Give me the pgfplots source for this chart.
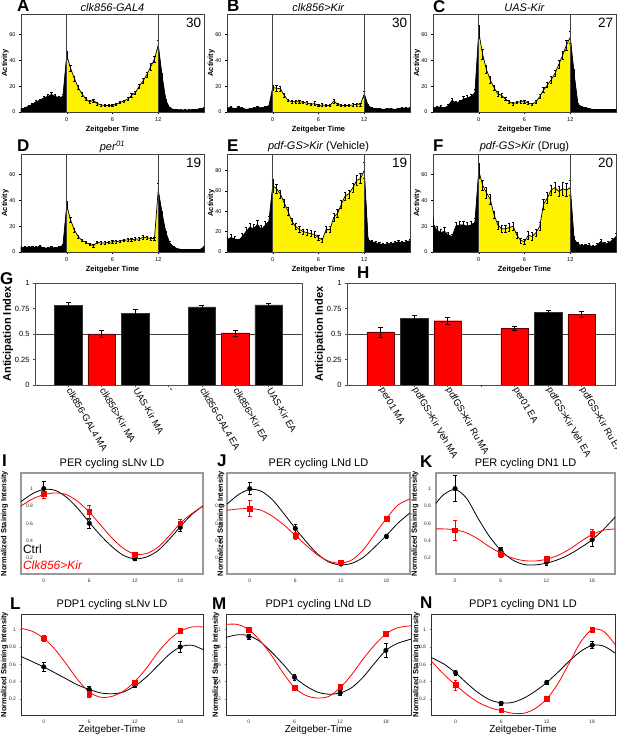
\documentclass[border=0pt]{standalone}
\usepackage{fontspec}
\setmainfont{Liberation Sans}
\usepackage{pgfplots}
\pgfplotsset{compat=1.18}
\usepackage{pgfplotstable}

\pgfplotstableread{
x y e
-6.0 2.5 0.8
-5.5 3.0 0.8
-5.0 4.5 1.0
-4.5 6.0 1.0
-4.0 8.0 1.2
-3.5 9.0 1.2
-3.0 11.0 1.5
-2.5 12.0 1.5
-2.0 13.5 1.5
-1.5 12.0 1.5
-1.0 11.0 1.5
-0.5 12.0 1.5
0.0 44 3.0
0.5 34 2.5
1.0 26 2.0
1.5 19 1.5
2.0 14 1.5
2.5 10 1.2
3.0 8 1.0
3.5 9 1.2
4.0 6.5 1.0
4.5 5.5 0.8
5.0 5 0.8
5.5 5 0.8
6.0 5 0.8
6.5 6 0.8
7.0 7.5 1.0
7.5 8.5 1.0
8.0 10 1.2
8.5 13 1.5
9.0 15 1.5
9.5 20 1.8
10.0 24 2.0
10.5 29 2.2
11.0 35 2.5
11.5 41 2.5
12.0 52 3.5
12.5 28 2.0
13.0 9 1.0
13.5 3 0.5
14.0 2 0.4
14.5 1.8 0.4
15.0 1.5 0.4
15.5 1.5 0.4
16.0 1.5 0.4
16.5 1.8 0.4
17.0 2.0 0.4
17.5 2.5 0.5
18.0 3.0 0.5
}\tA

\pgfplotstableread{
x y e
-6.0 3 0.8
-5.5 3.5 0.8
-5.0 2.5 0.6
-4.5 3.5 0.8
-4.0 3 0.8
-3.5 2 0.5
-3.0 2.5 0.6
-2.5 3 0.6
-2.0 3.5 0.8
-1.5 3 0.6
-1.0 4 0.8
-0.5 4.5 0.8
0.0 19 2
0.5 18.5 2
1.0 18 2
1.5 13 1.5
2.0 9 1
2.5 8 1
3.0 8 1
3.5 8 1
4.0 7.5 1
4.5 7 1
5.0 6 1
5.5 6.5 1.5
6.0 5 0.8
6.5 5.5 1
7.0 5 0.8
7.5 5 0.8
8.0 8.5 1.5
8.5 6 1
9.0 5 0.8
9.5 5 0.8
10.0 5 0.8
10.5 5.5 1
11.0 6 1.2
11.5 6 1.2
12.0 14 2.5
12.5 5 0.8
13.0 3 0.6
13.5 2.5 0.5
14.0 2.5 0.5
14.5 2 0.5
15.0 2.5 0.5
15.5 2.5 0.5
16.0 2 0.5
16.5 2.5 0.5
17.0 3 0.6
17.5 3 0.6
18.0 3 0.6
}\tB

\pgfplotstableread{
x y e
-6.0 3 0.8
-5.5 3.5 0.8
-5.0 4 1
-4.5 3 0.8
-4.0 5 1
-3.5 9 2
-3.0 7 1.5
-2.5 8 1.5
-2.0 10 2
-1.5 11 2
-1.0 12 2
-0.5 15 3
0.0 62 5
0.5 45 4
1.0 33 3
1.5 25 2.5
2.0 19 2
2.5 14 2
3.0 13 1.5
3.5 10 1.2
4.0 8 1
4.5 6.5 1
5.0 7.5 1
5.5 8 1
6.0 8 1
6.5 7 1
7.0 6 1
7.5 8 1
8.0 12 1.5
8.5 17 2
9.0 21 2
9.5 25 2.5
10.0 30 2.5
10.5 37 3
11.0 44 3
11.5 52 4
12.0 58 5
12.5 30 3
13.0 6 1
13.5 4 0.8
14.0 3 0.6
14.5 2.5 0.5
15.0 2 0.5
15.5 2 0.5
16.0 2 0.5
16.5 2 0.5
17.0 2 0.5
17.5 2 0.5
18.0 2 0.5
}\tC

\pgfplotstableread{
x y e
-6.0 3.5 0.8
-5.5 3.5 0.8
-5.0 4 0.8
-4.5 3.5 0.8
-4.0 3.5 0.8
-3.5 4.5 1
-3.0 3 0.8
-2.5 3 0.8
-2.0 3.5 0.8
-1.5 3 0.8
-1.0 4 0.8
-0.5 5 1
0.0 36 3
0.5 25 2
1.0 17 1.5
1.5 12 1.2
2.0 9 1
2.5 7.5 1
3.0 6 1
3.5 5 1
4.0 7.5 1
4.5 7 1
5.0 7 1
5.5 7.5 1
6.0 8 1
6.5 8 1
7.0 8.5 1
7.5 9 1
8.0 9.5 1.2
8.5 9.5 1.2
9.0 10 1.2
9.5 10 1.2
10.0 11.5 1.2
10.5 11 1.2
11.0 10.5 1.2
11.5 10.5 1.2
12.0 48 5
12.5 30 2
13.0 15 1.5
13.5 7 1
14.0 4 0.8
14.5 2.5 0.5
15.0 2 0.5
15.5 2 0.5
16.0 2 0.5
16.5 2 0.5
17.0 2 0.5
17.5 2 0.5
18.0 4 0.8
}\tD

\pgfplotstableread{
x y e
-6.0 12 3
-5.5 14 3
-5.0 13 2
-4.5 11 2
-4.0 15 3
-3.5 20 4
-3.0 24 4
-2.5 23 4
-2.0 27 4
-1.5 22 4
-1.0 26 4
-0.5 30 5
0.0 65 6
0.5 62 4
1.0 57 4
1.5 48 4
2.0 40 4
2.5 30 3
3.0 25 3
3.5 22 3
4.0 20 2.5
4.5 19 3
5.0 18 3
5.5 17 3
6.0 14 2.5
6.5 12 2
7.0 22 3
7.5 22 3
8.0 34 4
8.5 38 4
9.0 47 4
9.5 55 4
10.0 57 4
10.5 63 4
11.0 70 5
11.5 72 5
12.0 80 8
12.5 12 2
13.0 10 1.5
13.5 9 1.5
14.0 8 1.5
14.5 7 1.5
15.0 8 1.5
15.5 8 1.5
16.0 9 2
16.5 10 2
17.0 9 2
17.5 10 2
18.0 11 2
}\tE

\pgfplotstableread{
x y e
-6.0 22 4
-5.5 17 3
-5.0 15 3
-4.5 16 3
-4.0 13 2
-3.5 12 2
-3.0 20 3
-2.5 21 3
-2.0 21 3
-1.5 20 3
-1.0 21 3
-0.5 23 3
0.0 63 6
0.5 52 4
1.0 46 4
1.5 41 4
2.0 29 3
2.5 21 3
3.0 18 3
3.5 18 3
4.0 19 3
4.5 20 3
5.0 13 2
5.5 9 2
6.0 8 2
6.5 13 3
7.0 12 3
7.5 15 3
8.0 20 3
8.5 37 4
9.0 42 4
9.5 48 4
10.0 50 4
10.5 47 4
11.0 49 5
11.5 48 5
12.0 50 6
12.5 10 2
13.0 6 1.5
13.5 5 1
14.0 5 1
14.5 5 1.5
15.0 4 1
15.5 5 1.5
16.0 8 2
16.5 6 1.5
17.0 7 1.5
17.5 9 2
18.0 12 2.5
}\tF

\pgfplotsset{
  act/.style={scale only axis, width=183pt, height=98pt, anchor=south west,
    xmin=-6, xmax=18, ymin=0, xtick={0,6,12},
    tick align=outside, major tick length=2pt, xtick pos=bottom, ytick pos=left,
    tick style={black, line width=0.4pt},
    axis line style={black!75, line width=0.5pt},
    ticklabel style={font=\fontsize{5.5}{6}\selectfont},
    /pgf/number format/assume math mode=true,
    xlabel={Zeitgeber Time}, ylabel={Activity},
    xlabel style={font=\bfseries\fontsize{7.5}{8}\selectfont, at={(axis description cs:0.5,0)}, anchor=center, yshift=-18pt},
    ylabel style={font=\bfseries\fontsize{7.5}{8}\selectfont, at={(axis description cs:-0.087,0.5)}, anchor=center},
    title style={font=\fontsize{11}{12}\selectfont, at={(axis description cs:0.5,1)}, anchor=center, inner sep=0pt},
  },
  cyc/.style={scale only axis, height=101pt, anchor=south west,
    ymin=0.015, ymax=1.18, xtick={0,6,12,18}, ytick={0.2,0.4,0.6,0.8,1},
    axis line style={black!40, line width=1.2pt},
    tick style={black!50, line width=0.4pt}, major tick length=1.5pt, tick align=outside,
    xtick pos=bottom, ytick pos=left,
    ticklabel style={font=\fontsize{5}{6}\selectfont, text=black!80},
    /pgf/number format/assume math mode=true,
    title style={font=\fontsize{11}{12}\selectfont, at={(axis description cs:0.5,1)}, anchor=center, yshift=3pt, inner sep=0pt},
    ylabel={Normalized Staining Intensity},
    ylabel style={font=\bfseries\fontsize{7.5}{8}\selectfont, anchor=center},
  },
  cycb/.style={cyc, axis line style={black!80, line width=0.9pt}, xlabel={Zeitgeber-Time},
    xlabel style={font=\fontsize{10}{11}\selectfont, at={(axis description cs:0.5,0)}, anchor=center, yshift=-15pt}},
  bk/.style={black, line width=0.8pt, smooth},
  rd/.style={red, line width=0.8pt, smooth},
  bkp/.style={only marks, mark=*, mark size=2.3pt, black, error bars/.cd, y dir=both, y explicit,
    error bar style={black, line width=0.6pt}, error mark options={rotate=90, black, mark size=1.8pt, line width=0.6pt}, /pgfplots/.cd},
  rdp/.style={only marks, mark=square*, mark size=2.4pt, red, error bars/.cd, y dir=both, y explicit,
    error bar style={red, line width=0.6pt}, error mark options={rotate=90, red, mark size=1.8pt, line width=0.6pt}, /pgfplots/.cd},
  barax/.style={scale only axis, width=267pt, height=102pt, anchor=south west,
    xmin=0, xmax=8, ymin=0, ymax=1, ytick={0,0.25,0.5,0.75,1}, xtick={1,2,3,4,5,6,7},
    tick align=outside, major tick length=2pt, xtick pos=bottom, ytick pos=left,
    tick style={black!70, line width=0.5pt},
    axis line style={black!70, line width=0.6pt},
    yticklabel style={font=\fontsize{7.5}{8}\selectfont},
    xticklabel style={font=\fontsize{9.5}{10}\selectfont, rotate=-60, anchor=west, inner sep=1.5pt},
    /pgf/number format/assume math mode=true,
    ylabel={Anticipation Index},
    ylabel style={font=\bfseries\fontsize{11}{12}\selectfont, at={(axis description cs:-0.101,0.5)}, anchor=center},
  },
  barerr/.style={ybar, bar width=27.5pt, error bars/.cd, y dir=both, y explicit,
    error bar style={black, line width=0.6pt}, error mark options={rotate=90, black, mark size=2.5pt, line width=0.6pt}, /pgfplots/.cd},
}

\newcommand{\actpanel}[8]{%
\begin{axis}[act, at={(#2pt,#3pt)}, ymax=#4, ytick={#5}, title={#6}, title style={yshift=#8pt}]
\addplot[fill=black, draw=black, line width=0.3pt, restrict x to domain=-6:0] table[x=x,y=y] {#1} \closedcycle;
\addplot[fill=yellow, draw=none, restrict x to domain=0:12] table[x=x,y=y] {#1} \closedcycle;
\addplot[fill=black, draw=black, line width=0.3pt, restrict x to domain=12:18] table[x=x,y=y] {#1} \closedcycle;
\addplot[black, line width=0.7pt, error bars/.cd, y dir=both, y explicit,
  error bar style={black, line width=0.4pt}, error mark options={rotate=90, black, mark size=1.1pt, line width=0.4pt}]
  table[x=x,y=y,y error=e] {#1};
\addplot[black!75, line width=0.6pt] coordinates {(0,0) (0,#4)};
\addplot[black!75, line width=0.6pt] coordinates {(12,0) (12,#4)};
\node[anchor=north east, inner sep=0pt, font=\fontsize{13.5}{14}\selectfont] at (rel axis cs:0.985,0.965) {#7};
\end{axis}}

\newcommand{\letter}[3]{\node[anchor=north west, inner sep=0pt, font=\bfseries\fontsize{17}{17}\selectfont] at (#1pt,#2pt) {#3};}

\begin{document}
\begin{tikzpicture}
\path[use as bounding box] (0,0) rectangle (617pt,735pt);

% Row 1
\actpanel{\tA}{21}{623}{76}{0,20,40,60}{\textit{clk856-GAL4}}{30}{0}
\actpanel{\tB}{227}{623}{76}{0,20,40,60}{\textit{clk856>Kir}}{30}{0}
\actpanel{\tC}{433}{623}{76}{0,20,40,60}{\textit{UAS-Kir}}{27}{0}
% Row 2
\actpanel{\tD}{21}{483}{76}{0,20,40,60}{\textit{per}\textsuperscript{\textit{01}}}{19}{1}
\actpanel{\tE}{227}{483}{96}{0,20,40,60,80}{\textit{pdf-GS>Kir} (Vehicle)}{19}{1}
\actpanel{\tF}{433}{483}{76}{0,20,40,60}{\textit{pdf-GS>Kir} (Drug)}{20}{1}

% G
\begin{axis}[barax, at={(35pt,350pt)},
  xticklabels={clk856-GAL4 MA, clk856>Kir MA, UAS-Kir MA, -, clk856-GAL4 EA, clk856>Kir EA, UAS-Kir EA}]
\addplot[black!75, line width=0.8pt] coordinates {(0,0.5) (8,0.5)};
\addplot[barerr, fill=black, draw=black!80] coordinates {(1,0.78) +- (0,0.03) (3,0.70) +- (0,0.045) (5,0.765) +- (0,0.015) (7,0.785) +- (0,0.02)};
\addplot[barerr, fill=red, draw=red!40!black] coordinates {(2,0.50) +- (0,0.035) (6,0.51) +- (0,0.03)};
\end{axis}

% H
\begin{axis}[barax, width=268pt, at={(347pt,350pt)},
  ylabel style={at={(axis description cs:-0.1007,0.5)}},
  xticklabels={per01 MA, pdfGS>Kir Veh MA, pdfGS>Kir Ru MA, {}, per01 EA, pdfGS>Kir Veh EA, pdfGS>Kir Ru EA}]
\addplot[black!75, line width=0.8pt] coordinates {(0,0.5) (8,0.5)};
\addplot[barerr, fill=red, draw=red!40!black] coordinates {(1,0.52) +- (0,0.05) (3,0.63) +- (0,0.035) (5,0.555) +- (0,0.02) (7,0.69) +- (0,0.03)};
\addplot[barerr, fill=black, draw=black!80] coordinates {(2,0.65) +- (0,0.035) (6,0.715) +- (0,0.02)};
\end{axis}

% I
\begin{axis}[cyc, width=182pt, at={(21pt,161pt)}, xmin=-3, xmax=21,
  title={PER cycling sLNv LD},
  yticklabel style={xshift=17pt},
  ylabel style={at={(axis description cs:-0.0907,0.5)}}]
\addplot[bk] coordinates {(-3,0.85) (-1.5,0.94) (0,0.99) (1.5,0.98) (3,0.90) (4.5,0.77) (6,0.61) (7.5,0.46) (9,0.33) (10.5,0.23) (12,0.19) (13.5,0.21) (15,0.28) (16.5,0.41) (18,0.56) (19.5,0.70) (21,0.80)};
\addplot[rd] coordinates {(-3,0.80) (-1.5,0.88) (0,0.93) (1.5,0.95) (3,0.93) (4.5,0.85) (6,0.73) (7.5,0.58) (9,0.43) (10.5,0.31) (12,0.245) (13.5,0.25) (15,0.32) (16.5,0.45) (18,0.60) (19.5,0.71) (21,0.80)};
\addplot[bkp] coordinates {(0,1.0) +- (0,0.08) (6,0.60) +- (0,0.06) (12,0.19) +- (0,0.02) (18,0.55) +- (0,0.04)};
\addplot[rdp] coordinates {(0,0.94) +- (0,0.05) (6,0.73) +- (0,0.08) (12,0.24) +- (0,0.03) (18,0.60) +- (0,0.05)};
\node[anchor=west, inner sep=0pt, font=\fontsize{12}{13}\selectfont] at (rel axis cs:0.01,0.2475) {Ctrl};
\node[anchor=west, inner sep=0pt, font=\itshape\fontsize{12}{13}\selectfont, text=red] at (rel axis cs:0.01,0.089) {Clk856>Kir};
\end{axis}

% J
\begin{axis}[cyc, width=183pt, at={(227pt,161pt)}, xmin=-3, xmax=21.1,
  title={PER cycling LNd LD},
  ylabel style={at={(axis description cs:-0.033,0.5)}}]
\addplot[bk] coordinates {(-3,0.82) (-1.5,0.93) (0,0.99) (1.5,0.97) (3,0.87) (4.5,0.71) (6,0.54) (7.5,0.38) (9,0.24) (10.5,0.15) (12,0.12) (13.5,0.14) (15,0.21) (16.5,0.33) (18,0.46) (19.5,0.60) (21.1,0.72)};
\addplot[rd] coordinates {(-3,0.75) (-1.5,0.765) (0,0.77) (1.5,0.75) (3,0.68) (4.5,0.58) (6,0.46) (7.5,0.34) (9,0.23) (10.5,0.16) (12,0.14) (13.5,0.18) (15,0.30) (16.5,0.48) (18,0.655) (19.5,0.81) (21.1,0.88)};
\addplot[bkp] coordinates {(0,1.0) +- (0,0.07) (6,0.54) +- (0,0.05) (12,0.13) +- (0,0.02) (18,0.45) +- (0,0.02)};
\addplot[rdp] coordinates {(0,0.77) +- (0,0.09) (6,0.46) +- (0,0.04) (12,0.15) +- (0,0.02) (18,0.655) +- (0,0.02)};
\end{axis}

% K
\begin{axis}[cyc, width=179pt, at={(436pt,161pt)}, xmin=-2.5, xmax=21,
  title={PER cycling DN1 LD},
  ylabel style={at={(axis description cs:-0.117,0.5)}}]
\addplot[bk] coordinates {(-2.5,0.83) (-1.5,0.93) (0,0.99) (1.5,0.89) (3,0.66) (4.5,0.45) (6,0.29) (7.5,0.18) (9,0.125) (10.5,0.12) (12,0.14) (13.5,0.18) (15,0.24) (16.5,0.32) (18,0.41) (19.5,0.53) (21,0.67)};
\addplot[rd] coordinates {(-2.5,0.535) (-1.5,0.535) (0,0.525) (1.5,0.49) (3,0.42) (4.5,0.33) (6,0.255) (7.5,0.2) (9,0.17) (10.5,0.165) (12,0.185) (13.5,0.23) (15,0.3) (16.5,0.39) (18,0.47) (19.5,0.52) (21,0.535)};
\addplot[bkp] coordinates {(0,1.0) +- (0,0.15) (6,0.29) +- (0,0.03) (12,0.15) +- (0,0.03) (18,0.41) +- (0,0.07)};
\addplot[rdp] coordinates {(0,0.52) +- (0,0.12) (6,0.25) +- (0,0.04) (12,0.19) +- (0,0.02) (18,0.48) +- (0,0.05)};
\end{axis}

% L
\begin{axis}[cycb, width=182pt, at={(21pt,20pt)}, xmin=-3, xmax=21,
  title={PDP1 cycling sLNv LD},
  ylabel style={at={(axis description cs:-0.0907,0.5)}}]
\addplot[bk] coordinates {(-3,0.69) (-1.5,0.63) (0,0.57) (1.5,0.5) (3,0.43) (4.5,0.36) (6,0.31) (7.5,0.27) (9,0.26) (10.5,0.28) (12,0.35) (13.5,0.45) (15,0.58) (16.5,0.71) (18,0.8) (19.5,0.82) (21,0.77)};
\addplot[rd] coordinates {(-3,1.015) (-1.5,0.98) (0,0.9) (1.5,0.77) (3,0.6) (4.5,0.42) (6,0.28) (7.5,0.22) (9,0.23) (10.5,0.29) (12,0.4) (13.5,0.55) (15,0.73) (16.5,0.88) (18,0.98) (19.5,1.03) (21,1.03)};
\addplot[bkp] coordinates {(0,0.57) +- (0,0.05) (6,0.31) +- (0,0.04) (12,0.36) +- (0,0.03) (18,0.8) +- (0,0.06)};
\addplot[rdp] coordinates {(0,0.9) +- (0,0.03) (6,0.26) +- (0,0.04) (12,0.39) +- (0,0.03) (18,0.99) +- (0,0.03)};
\end{axis}

% M
\begin{axis}[cycb, width=185pt, at={(226pt,20pt)}, xmin=-3, xmax=21.3,
  title={PDP1 cycling LNd LD},
  ylabel style={at={(axis description cs:-0.054,0.5)}}]
\addplot[bk] coordinates {(-3,0.91) (-1.5,0.94) (0,0.93) (1.5,0.86) (3,0.74) (4.5,0.6) (6,0.45) (7.5,0.35) (9,0.28) (10.5,0.255) (12,0.27) (13.5,0.33) (15,0.45) (16.5,0.61) (18,0.76) (19.5,0.84) (21.3,0.89)};
\addplot[rd] coordinates {(-3,1.06) (-1.5,1.06) (0,1.0) (1.5,0.87) (3,0.7) (4.5,0.5) (6,0.33) (7.5,0.24) (9,0.21) (10.5,0.23) (12,0.33) (13.5,0.48) (15,0.66) (16.5,0.82) (18,0.95) (19.5,1.02) (21.3,1.045)};
\addplot[bkp] coordinates {(0,0.92) +- (0,0.03) (6,0.45) +- (0,0.04) (12,0.27) +- (0,0.03) (18,0.76) +- (0,0.08)};
\addplot[rdp] coordinates {(0,1.0) +- (0,0.02) (6,0.33) +- (0,0.03) (12,0.34) +- (0,0.03) (18,0.95) +- (0,0.02)};
\end{axis}

% N
\begin{axis}[cycb, width=184pt, at={(431pt,20pt)}, xmin=-3.25, xmax=21,
  title={PDP1 cycling DN1 LD},
  ylabel style={at={(axis description cs:-0.079,0.5)}}]
\addplot[bk] coordinates {(-3.25,0.68) (-1.5,0.6) (0,0.5) (1.5,0.38) (3,0.27) (4.5,0.19) (6,0.155) (7.5,0.16) (9,0.21) (10.5,0.29) (12,0.39) (13.5,0.51) (15,0.64) (16.5,0.75) (18,0.82) (19.5,0.81) (21,0.73)};
\addplot[rd] coordinates {(-3.25,0.64) (-1.5,0.48) (0,0.36) (1.5,0.25) (3,0.16) (4.5,0.1) (6,0.065) (7.5,0.035) (9,0.035) (10.5,0.09) (12,0.2) (13.5,0.38) (15,0.62) (16.5,0.86) (18,1.0) (19.5,0.98) (21,0.83)};
\addplot[bkp] coordinates {(0,0.5) +- (0,0.03) (6,0.15) +- (0,0.02) (12,0.39) +- (0,0.02) (18,0.82) +- (0,0.04)};
\addplot[rdp] coordinates {(0,0.36) +- (0,0.06) (6,0.07) +- (0,0.02) (12,0.2) +- (0,0.02) (18,1.0) +- (0,0.02)};
\end{axis}

% Panel letters
\letter{17}{735}{A}
\letter{227}{735}{B}
\letter{433}{735}{C}
\letter{17}{595}{D}
\letter{227}{595}{E}
\letter{433}{595}{F}
\letter{0}{463}{G}
\letter{357}{468}{H}
\letter{2}{280}{I}
\letter{217}{280}{J}
\letter{420}{279}{K}
\letter{10}{137}{L}
\letter{212}{137}{M}
\letter{420}{138}{N}
\end{tikzpicture}
\end{document}
